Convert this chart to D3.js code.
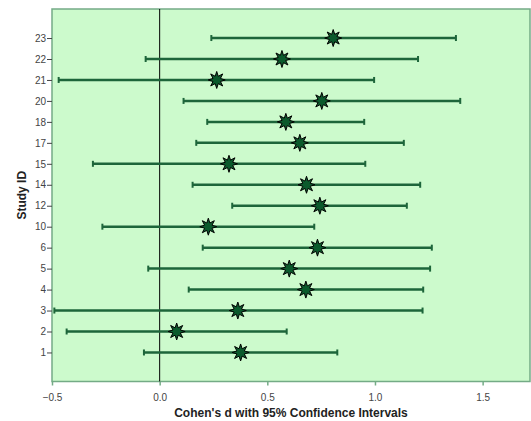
<!DOCTYPE html>
<html>
<head>
<meta charset="utf-8">
<script src="https://cdn.jsdelivr.net/npm/d3@7"></script>
<style>
    body { margin: 0; background: #fff; }
    svg { display: block; font-family: "Liberation Sans", Arial, sans-serif; }
</style>
</head>
<body>
<script>
// study ids, top to bottom
const studies = ['23', '22', '21', '20', '18', '17', '15', '14', '12', '10', '6', '5', '4', '3', '2', '1']
const effect = [0.806, 0.568, 0.265, 0.753, 0.586, 0.651, 0.322, 0.682, 0.744, 0.226, 0.733, 0.602, 0.679, 0.363, 0.079, 0.376]
const lower = [0.24, -0.065, -0.469, 0.111, 0.221, 0.17, -0.31, 0.153, 0.337, -0.266, 0.2, -0.053, 0.135, -0.489, -0.432, -0.073]
const upper = [1.376, 1.2, 0.996, 1.396, 0.95, 1.134, 0.955, 1.21, 1.148, 0.718, 1.264, 1.256, 1.224, 1.221, 0.59, 0.825]
const xTicks = [-0.5, 0, 0.5, 1.0, 1.5]

const width = 531
const height = 421
const margin = { top: 9, right: 1, bottom: 39.5, left: 52 }

const rows = studies.map((id, i) => ({ id, d: effect[i], lo: lower[i], hi: upper[i] }))

const svg = d3.select('body').append('svg')
    .attr('width', width)
    .attr('height', height)

const x = d3.scaleLinear()
    .domain([-0.5, 1.72])
    .range([margin.left, width - margin.right])

const y = d3.scalePoint()
    .domain(studies)
    .range([margin.top, height - margin.bottom])
    .padding(1.385)

// plot background
svg.append('rect')
    .attr('x', margin.left)
    .attr('y', margin.top)
    .attr('width', width - margin.right - margin.left)
    .attr('height', height - margin.bottom - margin.top)
    .attr('fill', '#ccfacc')
    .attr('stroke', '#74ab86')
    .attr('stroke-width', 1.5)

// zero line
svg.append('line')
    .attr('x1', x(0)).attr('x2', x(0))
    .attr('y1', margin.top).attr('y2', height - margin.bottom)
    .attr('stroke', '#000')
    .attr('stroke-width', 1)

// axes
const xAxis = svg.append('g')
    .attr('transform', `translate(0,${height - margin.bottom})`)
    .call(d3.axisBottom(x).tickValues(xTicks).tickFormat(d3.format('.1f')).tickSize(4).tickSizeOuter(0))
xAxis.select('.domain').remove()
xAxis.selectAll('line').attr('stroke', '#74ab86').attr('stroke-width', 1.5)
xAxis.selectAll('text').attr('fill', '#444').attr('font-size', 10).attr('dy', '1.2em')

const yAxis = svg.append('g')
    .attr('transform', `translate(${margin.left},0)`)
    .call(d3.axisLeft(y).tickSize(5).tickPadding(1))
yAxis.select('.domain').remove()
yAxis.selectAll('line').attr('stroke', '#444')
yAxis.selectAll('text').attr('fill', '#444').attr('font-size', 10)

// axis titles
svg.append('text')
    .attr('x', (margin.left + width - margin.right) / 2)
    .attr('y', 417)
    .attr('text-anchor', 'middle')
    .attr('font-size', 12)
    .attr('font-weight', 'bold')
    .attr('fill', '#222')
    .text("Cohen's d with 95% Confidence Intervals")

svg.append('text')
    .attr('transform', `translate(26,${(margin.top + height - margin.bottom) / 2}) rotate(-90)`)
    .attr('text-anchor', 'middle')
    .attr('font-size', 12)
    .attr('font-weight', 'bold')
    .attr('fill', '#222')
    .text('Study ID')

// intervals
const lineColor = '#1d653a'
const g = svg.append('g')
g.selectAll('line.ci')
    .data(rows)
    .join('line')
    .attr('class', 'ci')
    .attr('x1', d => x(d.lo)).attr('x2', d => x(d.hi))
    .attr('y1', d => y(d.id)).attr('y2', d => y(d.id))
    .attr('stroke', lineColor)
    .attr('stroke-width', 2.5)

for (const key of ['lo', 'hi']) {
    g.selectAll(`line.cap-${key}`)
        .data(rows)
        .join('line')
        .attr('class', `cap-${key}`)
        .attr('x1', d => x(d[key])).attr('x2', d => x(d[key]))
        .attr('y1', d => y(d.id) - 3).attr('y2', d => y(d.id) + 3)
        .attr('stroke', lineColor)
        .attr('stroke-width', 2)
}

// star markers
const star = d3.symbol().type({
    draw(ctx, size) {
        const ro = 8.5, ri = 4
        for (let i = 0; i < 16; i++) {
            const r = i % 2 ? ri : ro
            const a = i * Math.PI / 8 - Math.PI / 2
            if (i === 0) ctx.moveTo(r * Math.cos(a), r * Math.sin(a))
            else ctx.lineTo(r * Math.cos(a), r * Math.sin(a))
        }
        ctx.closePath()
    }
})

g.selectAll('path.star')
    .data(rows)
    .join('path')
    .attr('class', 'star')
    .attr('transform', d => `translate(${x(d.d)},${y(d.id)})`)
    .attr('d', star)
    .attr('fill', '#0b5a2c')
    .attr('stroke', '#000')
    .attr('stroke-width', 1)
</script>
</body>
</html>
